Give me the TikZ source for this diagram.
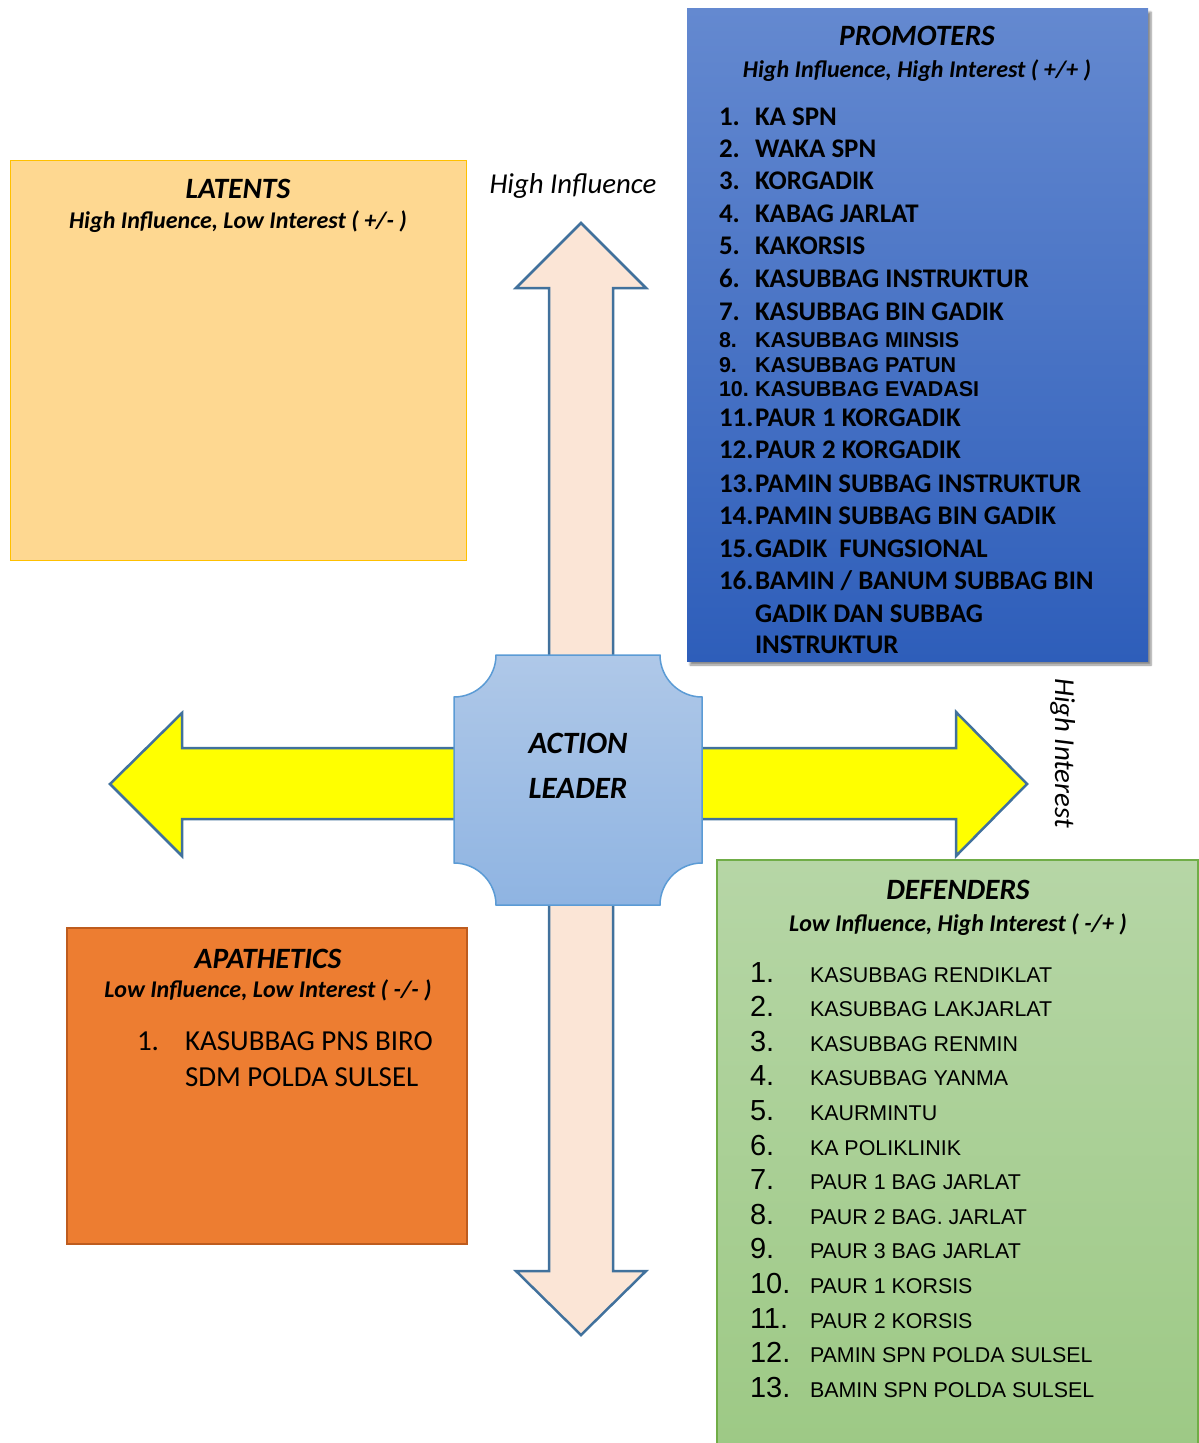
\documentclass[tikz,border=0pt]{standalone}
\usepackage{fontspec}
\setmainfont{Carlito}
\newfontfamily\arialf{Liberation Sans}
\usetikzlibrary{shadows.blur}
\definecolor{promtop}{RGB}{100,137,208}
\definecolor{prombot}{RGB}{46,94,186}
\definecolor{latfill}{RGB}{254,216,145}
\definecolor{latline}{RGB}{255,192,0}
\definecolor{apafill}{RGB}{237,125,49}
\definecolor{apaline}{RGB}{190,92,30}
\definecolor{deftop}{RGB}{182,214,166}
\definecolor{defbot}{RGB}{157,201,133}
\definecolor{defline}{RGB}{112,173,71}
\definecolor{ctop}{RGB}{175,200,232}
\definecolor{cbot}{RGB}{143,180,226}
\definecolor{cline}{RGB}{91,155,213}
\definecolor{arrline}{RGB}{65,113,156}
\definecolor{varfill}{RGB}{251,229,214}
\definecolor{yel}{RGB}{255,255,0}
\tikzset{
  t/.style={inner sep=0pt, outer sep=0pt},
  pitem/.style={t, anchor=base west, font=\fontsize{26.9}{30}\selectfont\bfseries},
  pitemA/.style={t, anchor=base west, font=\arialf\fontsize{21.5}{25}\selectfont\bfseries},
  ttl/.style={t, anchor=base, font=\fontsize{29.5}{32}\selectfont\bfseries\itshape},
  subttl/.style={t, anchor=base, font=\fontsize{24}{28}\selectfont\bfseries\itshape},
  dnum/.style={t, anchor=base west, font=\arialf\fontsize{29}{34}\selectfont},
  ditem/.style={t, anchor=base west, font=\arialf\fontsize{21.4}{26}\selectfont},
  aitem/.style={t, anchor=base west, font=\fontsize{29}{32}\selectfont},
  axis/.style={t, font=\fontsize{28.8}{32}\selectfont\itshape},
  blockarrow/.style={draw=arrline, line width=2.5pt, line join=miter},
}
\begin{document}
\begin{tikzpicture}[x=1pt,y=-1pt]
\useasboundingbox (0,0) rectangle (1199,1443);

% vertical double arrow
\draw[blockarrow, fill=varfill]
  (581,223) -- (646,288) -- (613,288) -- (613,1271) -- (646,1271) -- (581,1335)
  -- (516,1271) -- (549,1271) -- (549,288) -- (516,288) -- cycle;
% horizontal double arrow
\draw[blockarrow, fill=yel]
  (110,784) -- (182,713) -- (182,748) -- (956,748) -- (956,712) -- (1027,784)
  -- (956,856) -- (956,819) -- (182,819) -- (182,856) -- cycle;

% centre plaque
\draw[draw=cline, line width=1.5pt, top color=ctop, bottom color=cbot]
  (496,655) -- (660,655) .. controls (660,678) and (679,697) .. (702,697)
  -- (702,863) .. controls (679,863) and (660,882) .. (660,905)
  -- (496,905) .. controls (496,882) and (477,863) .. (454,863)
  -- (454,697) .. controls (477,697) and (496,678) .. (496,655) -- cycle;
\node[ttl, font=\fontsize{31}{34}\selectfont\bfseries\itshape] (al1) at (578,753) {ACTION};
\node[ttl, font=\fontsize{31}{34}\selectfont\bfseries\itshape] (al2) at (578,798) {LEADER};

% axis labels
\node[axis, anchor=base] (hinf) at (573,193) {High Influence};
\node[axis, anchor=base, rotate=-90] (hint) at (1055,753) {High Interest};

% LATENTS
\draw[draw=latline, line width=1pt, fill=latfill] (10,160) rectangle (466,560);
\node[ttl] (latt) at (238,198) {LATENTS};
\node[subttl] (lats) at (238,228) {High Influence, Low Interest ( +/- )};

% APATHETICS
\draw[draw=apaline, line width=1.8pt, fill=apafill] (67,928) rectangle (467,1244);
\node[ttl] (apat) at (268,968) {APATHETICS};
\node[subttl] (apas) at (268,997) {Low Influence, Low Interest ( -/- )};
\node[aitem] (a1n) at (137,1050) {1.};
\node[aitem] (a1) at (185,1050) {KASUBBAG PNS BIRO};
\node[aitem] (a1b) at (185,1086) {SDM POLDA SULSEL};

% PROMOTERS
\fill[top color=promtop, bottom color=prombot,
  blur shadow={shadow xshift=3pt, shadow yshift=-4pt, shadow blur steps=6, shadow opacity=45}]
  (687,8) rectangle (1148,661);
\node[ttl] (prot) at (917,45) {PROMOTERS};
\node[subttl] (pros) at (917,77) {High Influence, High Interest ( +/+ )};
\node[pitem] (pn1) at (719,125) {1.};  \node[pitem] (p1) at (755,125) {KA SPN};
\node[pitem] (pn2) at (719,157) {2.};  \node[pitem] (p2) at (755,157) {WAKA SPN};
\node[pitem] (pn3) at (719,189) {3.};  \node[pitem] (p3) at (755,189) {KORGADIK};
\node[pitem] (pn4) at (719,222) {4.};  \node[pitem] (p4) at (755,222) {KABAG JARLAT};
\node[pitem] (pn5) at (719,254) {5.};  \node[pitem] (p5) at (755,254) {KAKORSIS};
\node[pitem] (pn6) at (719,287) {6.};  \node[pitem] (p6) at (755,287) {KASUBBAG INSTRUKTUR};
\node[pitem] (pn7) at (719,320) {7.};  \node[pitem] (p7) at (755,320) {KASUBBAG BIN GADIK};
\node[pitemA] (pn8) at (719,347) {8.};  \node[pitemA] (p8) at (755,347) {KASUBBAG MINSIS};
\node[pitemA] (pn9) at (719,372) {9.};  \node[pitemA] (p9) at (755,372) {KASUBBAG PATUN};
\node[pitemA] (pn10) at (719,396) {10.}; \node[pitemA] (p10) at (755,396) {KASUBBAG EVADASI};
\node[pitem] (pn11) at (719,426) {11.}; \node[pitem] (p11) at (755,426) {PAUR 1 KORGADIK};
\node[pitem] (pn12) at (719,458) {12.}; \node[pitem] (p12) at (755,458) {PAUR 2 KORGADIK};
\node[pitem] (pn13) at (719,492) {13.}; \node[pitem] (p13) at (755,492) {PAMIN SUBBAG INSTRUKTUR};
\node[pitem] (pn14) at (719,524) {14.}; \node[pitem] (p14) at (755,524) {PAMIN SUBBAG BIN GADIK};
\node[pitem] (pn15) at (719,557) {15.}; \node[pitem] (p15) at (755,557) {GADIK\ \ FUNGSIONAL};
\node[pitem] (pn16) at (719,589) {16.}; \node[pitem] (p16) at (755,589) {BAMIN / BANUM SUBBAG BIN};
\node[pitem] (p16b) at (755,622) {GADIK DAN SUBBAG};
\node[pitem] (p16c) at (755,653) {INSTRUKTUR};

% DEFENDERS
\draw[draw=defline, line width=1.2pt, top color=deftop, bottom color=defbot] (717,860) rectangle (1198,1450);
\node[ttl] (deft) at (958,899) {DEFENDERS};
\node[subttl] (defs) at (958,931) {Low Influence, High Interest ( -/+ )};
\foreach \i/\txt in {1/KASUBBAG RENDIKLAT, 2/KASUBBAG LAKJARLAT, 3/KASUBBAG RENMIN,
  4/KASUBBAG YANMA, 5/KAURMINTU, 6/KA POLIKLINIK, 7/PAUR 1 BAG JARLAT,
  8/PAUR 2 BAG. JARLAT, 9/PAUR 3 BAG JARLAT, 10/PAUR 1 KORSIS, 11/PAUR 2 KORSIS,
  12/PAMIN SPN POLDA SULSEL, 13/BAMIN SPN POLDA SULSEL}{
  \pgfmathsetmacro{\yy}{982+34.6*(\i-1)}
  \node[dnum] (dn\i) at (750,\yy) {\i.};
  \node[ditem] (d\i) at (810,\yy) {\txt};
}
\end{tikzpicture}
\end{document}
